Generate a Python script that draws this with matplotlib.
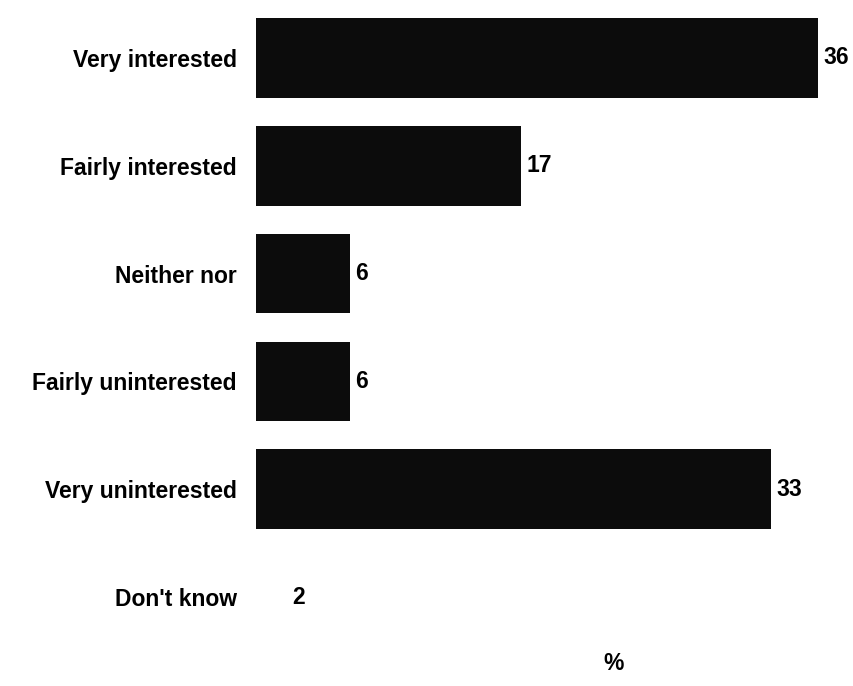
import matplotlib
matplotlib.use("Agg")
import matplotlib.pyplot as plt

categories = ["Very interested", "Fairly interested", "Neither nor",
              "Fairly uninterested", "Very uninterested", "Don't know"]
values = [36, 17, 6, 6, 33, 2]
bar_colors = ["#0c0c0c", "#0c0c0c", "#0c0c0c", "#0c0c0c", "#0c0c0c", "white"]

plt.rcParams['font.family'] = ['Liberation Sans', 'DejaVu Sans']

fig = plt.figure(figsize=(8.54, 6.86), dpi=100)
ax = fig.add_axes([256/854, 1 - 651/686, 593/854, 647/686])

ypos = list(range(len(categories)))
bars = ax.barh(ypos, values, height=0.74, color=bar_colors)
ax.set_xlim(0, 38)
ax.set_ylim(len(categories) - 0.5, -0.5)
ax.set_yticks(ypos)
ax.set_yticklabels(categories, fontsize=16.5, fontweight='bold')
ax.tick_params(axis='y', length=0, pad=14)
ax.set_xticks([])
for s in ax.spines.values():
    s.set_visible(False)

for b, v in zip(bars, values):
    ax.text(b.get_width() + 0.35, b.get_y() + b.get_height() / 2, str(v),
            va='center', ha='left', fontsize=16.5, fontweight='bold')

fig.text(614/854, 1 - 663/686, "%", ha='center', va='center',
         fontsize=16.5, fontweight='bold')

fig.savefig("out.png", dpi=100)
